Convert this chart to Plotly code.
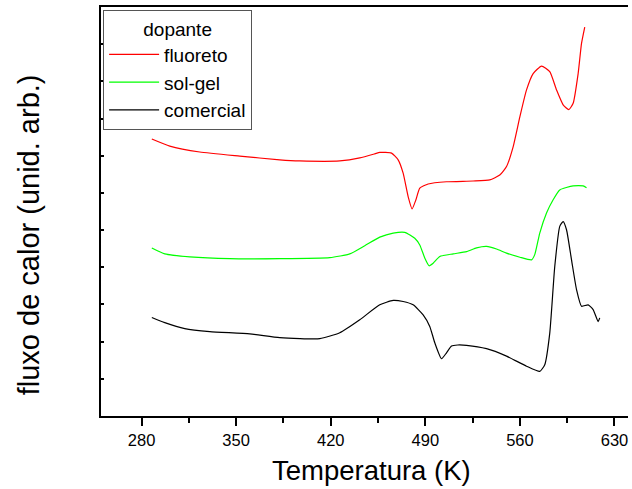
import plotly.graph_objects as go

# Temperature (K) and heat flux (arbitrary units, offset curves)
fluoreto_T = [287.6, 300.9, 323.1, 352.7, 382.3, 397.0, 426.7, 441.5, 452.6, 456.3, 465.0, 469.9,
              473.6, 477.3, 480.2, 483.0, 485.9, 492.1, 505.7, 525.4, 537.7, 545.1, 550.1, 555.0,
              560.0, 564.9, 569.8, 576.0, 582.1, 587.1, 592.0, 596.2, 599.4, 603.1, 605.6, 608.0]
fluoreto_v = [7.45, 7.26, 7.10, 6.99, 6.89, 6.86, 6.86, 6.94, 7.05, 7.09, 7.07, 6.89,
              6.53, 5.90, 5.57, 5.81, 6.13, 6.24, 6.30, 6.32, 6.35, 6.48, 6.71, 7.24,
              8.05, 8.77, 9.21, 9.41, 9.26, 8.77, 8.37, 8.24, 8.41, 9.21, 10.02, 10.46]

solgel_T = [287.6, 297.2, 315.7, 345.3, 382.3, 419.3, 434.1, 445.2, 456.3, 466.2, 474.8, 482.2,
            485.9, 489.6, 492.8, 495.8, 500.7, 510.6, 520.5, 527.9, 535.3, 542.7, 550.1, 560.0,
            568.6, 571.0, 574.7, 579.7, 584.5, 589.5, 599.4, 606.8, 609.3]
solgel_v = [4.52, 4.36, 4.28, 4.23, 4.23, 4.26, 4.36, 4.58, 4.81, 4.92, 4.94, 4.78,
            4.60, 4.25, 4.04, 4.11, 4.29, 4.36, 4.42, 4.52, 4.56, 4.49, 4.38, 4.27,
            4.20, 4.34, 4.92, 5.46, 5.81, 6.08, 6.19, 6.19, 6.14]

comercial_T = [287.6, 297.2, 312.0, 330.5, 360.1, 382.3, 411.9, 426.7, 441.5, 456.3, 466.2, 473.6,
               481.0, 488.4, 493.3, 497.0, 502.0, 505.7, 509.4, 514.0, 520.5, 535.3, 550.1, 564.9, 574.7,
               578.4, 582.1, 585.8, 589.5, 592.0, 594.5, 598.2, 601.9, 605.6, 610.5, 614.2, 617.9, 619.1]
comercial_v = [2.65, 2.51, 2.35, 2.27, 2.21, 2.11, 2.08, 2.24, 2.59, 2.99, 3.11, 3.08,
               2.99, 2.72, 2.41, 1.97, 1.54, 1.70, 1.88, 1.91, 1.90, 1.81, 1.61, 1.34, 1.20,
               1.38, 2.23, 4.02, 5.10, 5.23, 5.01, 4.20, 3.40, 2.95, 2.99, 2.86, 2.54, 2.64]

series_names = ["fluoreto", "sol-gel", "comercial"]
x_tick_vals = [280, 350, 420, 490, 560, 630]

FONT = "Liberation Sans, Arial, sans-serif"

fig = go.Figure()
fig.add_trace(go.Scatter(x=fluoreto_T, y=fluoreto_v, mode="lines", name=series_names[0],
                         line=dict(color="#ff0000", width=1.2, shape="spline", smoothing=0.5)))
fig.add_trace(go.Scatter(x=solgel_T, y=solgel_v, mode="lines", name=series_names[1],
                         line=dict(color="#00ff00", width=1.2, shape="spline", smoothing=0.5)))
fig.add_trace(go.Scatter(x=comercial_T, y=comercial_v, mode="lines", name=series_names[2],
                         line=dict(color="#000000", width=1.2, shape="spline", smoothing=0.5)))

fig.update_layout(
    width=632, height=489,
    margin=dict(l=101, r=4, t=7, b=72.5, autoexpand=False),
    paper_bgcolor="white", plot_bgcolor="white",
    font=dict(family=FONT, color="black"),
    showlegend=True,
    legend=dict(
        x=0.004, y=0.993, xanchor="left", yanchor="top",
        bgcolor="white", bordercolor="#555555", borderwidth=1,
        font=dict(size=19, family=FONT),
        title=dict(text="dopante", side="top center", font=dict(size=19, family=FONT)),
        tracegroupgap=0, itemwidth=50,
    ),
    xaxis=dict(
        range=[250, 640], tickvals=x_tick_vals, ticktext=[str(v) for v in x_tick_vals],
        ticks="outside", ticklen=8, tickwidth=1.5, tickcolor="black",
        minor=dict(tickvals=[315, 385, 455, 525, 595], ticks="outside", ticklen=5,
                   tickwidth=1.5, tickcolor="black"),
        showline=True, linecolor="black", linewidth=2, mirror=True,
        showgrid=False, zeroline=False, automargin=False,
        tickfont=dict(size=16.5, family=FONT),
    ),
    yaxis=dict(
        range=[0, 11], dtick=1, tick0=0,
        ticks="inside", ticklen=3, tickwidth=1.5, tickcolor="black",
        showticklabels=False,
        showline=True, linecolor="black", linewidth=2,
        showgrid=False, zeroline=False, automargin=False,
    ),
    annotations=[
        dict(text="Temperatura (K)", xref="paper", yref="paper", x=0.513, y=-0.133,
             xanchor="center", yanchor="middle", showarrow=False,
             font=dict(size=27.5, family=FONT)),
        dict(text="fluxo de calor (unid. arb.)", xref="paper", yref="paper", x=-0.1376, y=0.443,
             xanchor="center", yanchor="middle", textangle=-90, showarrow=False,
             font=dict(size=29, family=FONT)),
    ],
)

fig.write_html("out.html", config={"displayModeBar": False},
               post_script="document.body.style.margin='0';document.body.style.padding='0';")
